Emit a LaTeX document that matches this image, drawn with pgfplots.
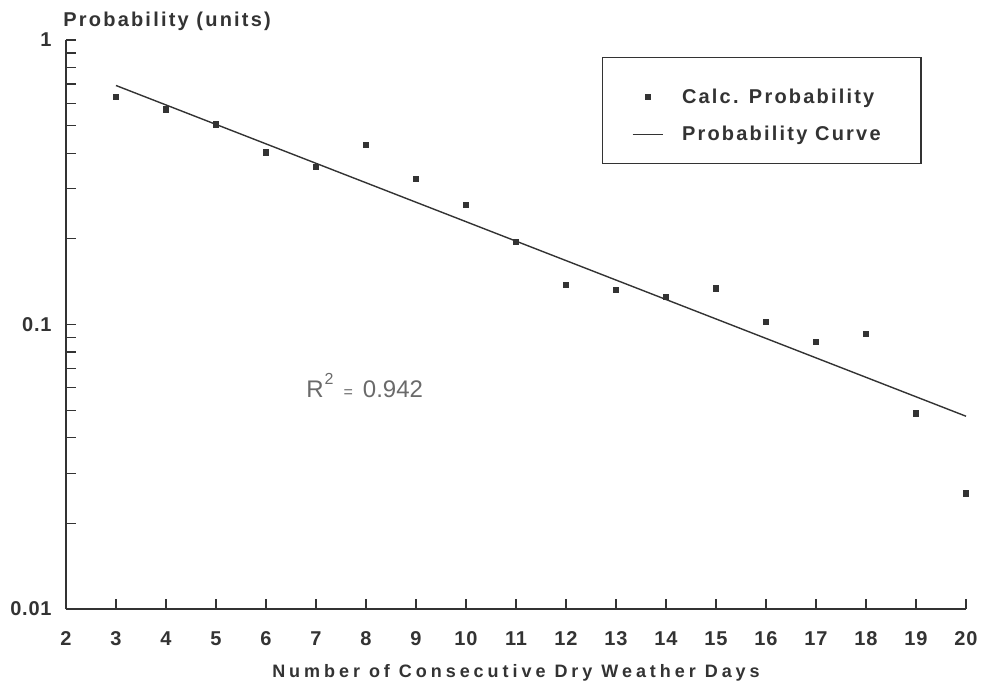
\documentclass[border=0pt]{standalone}
\usepackage{pgfplots}
\pgfplotsset{compat=1.18}
\usepackage{fontspec}
\setmainfont{Liberation Sans}
\newfontfamily\tickfont[LetterSpace=4]{Liberation Sans}
\newfontfamily\labfont[LetterSpace=22]{Liberation Sans}
\newfontfamily\ylabfont[LetterSpace=11]{Liberation Sans}
\newfontfamily\legfont[LetterSpace=11]{Liberation Sans}
\definecolor{ink}{HTML}{333333}
\definecolor{soft}{HTML}{6A6A6A}
\pgfplotsset{
  markleg/.style={legend image code/.code={\path[draw=none,fill=none] (0pt,-6pt) -- (0pt,6pt);\draw[mark repeat=2,mark phase=2,##1] plot coordinates {(0pt,-2.5pt) (7.5pt,-2.5pt) (15pt,-2.5pt)};}},
  lineleg/.style={legend image code/.code={\draw[##1] (0pt,0pt) -- (15pt,0pt);}},
}
\begin{document}
\begin{tikzpicture}
\path[use as bounding box] (-33pt,-38pt) rectangle (459.5pt,304.5pt);
\begin{axis}[
  scale only axis, width=450pt, height=284.5pt,
  at={(0,0)}, anchor=south west,
  clip=false,
  ymode=log, ymin=0.01, ymax=1, xmin=2, xmax=20,
  axis x line*=bottom, axis y line*=left,
  axis line style={ink, line width=0.8pt},
  xtick={2,...,20},
  ytick={0.01,0.1,1}, yticklabels={0.01,0.1,1},
  minor ytick={0.02,0.03,0.04,0.05,0.06,0.07,0.08,0.09,0.2,0.3,0.4,0.5,0.6,0.7,0.8,0.9},
  tick align=inside,
  major tick length=5pt, minor tick length=5pt,
  tick style={ink, line width=0.6pt},
  /pgf/number format/assume math mode=true,
  tick label style={font=\tickfont\bfseries\fontsize{10}{12}\selectfont, text=ink},
  xticklabel style={anchor=base, yshift=-18pt},
  yticklabel style={anchor=east, inner sep=0pt, xshift=-7pt},
  xlabel={Number of Consecutive Dry Weather Days},
  xlabel style={at={(axis description cs:0.5,0)}, anchor=base, yshift=-34pt, inner sep=0pt,
    font=\labfont\bfseries\fontsize{9}{11}\selectfont, text=ink},
  legend style={at={(0.5956,0.970)}, anchor=north west, draw=ink, line width=0.6pt,
    inner xsep=14.7pt, inner ysep=8pt, row sep=5.9pt,
    font=\legfont\bfseries\fontsize{10}{12}\selectfont, text=ink},
  legend cell align=left,
]
\addplot[only marks, mark=square*, mark size=1.3pt, color=ink, mark options={fill=ink}, markleg]
coordinates {
(3,0.630) (4,0.570) (5,0.505) (6,0.403) (7,0.358) (8,0.428) (9,0.326) (10,0.264)
(11,0.195) (12,0.1375) (13,0.132) (14,0.125) (15,0.134) (16,0.102) (17,0.0871)
(18,0.0925) (19,0.0487) (20,0.0255)
};
\addlegendentry{\rule{0pt}{12.7pt}\hspace{7.3pt}Calc. Probability}
\addplot[color=ink, line width=0.7pt, no marks, lineleg]
coordinates {(3,0.692) (20,0.0476)};
\addlegendentry{\hspace{7.3pt}Probability Curve\rule{3.5pt}{0pt}}
\node[anchor=base west, inner sep=0pt, text=soft, font=\fontsize{12}{14}\selectfont]
  at (axis cs:6.8,0.0556) {R\kern0.5pt\raisebox{6.5pt}{\fontsize{8}{9}\selectfont 2}\hspace{5pt}{\fontsize{8}{9}\selectfont =}\hspace{5pt}0.942};
\node[anchor=base west, inner sep=0pt, text=ink, font=\ylabfont\bfseries\fontsize{10}{12}\selectfont]
  at (rel axis cs:0,1) [yshift=7pt, xshift=-1.5pt] {Probability (units)};
\end{axis}
\end{tikzpicture}
\end{document}
